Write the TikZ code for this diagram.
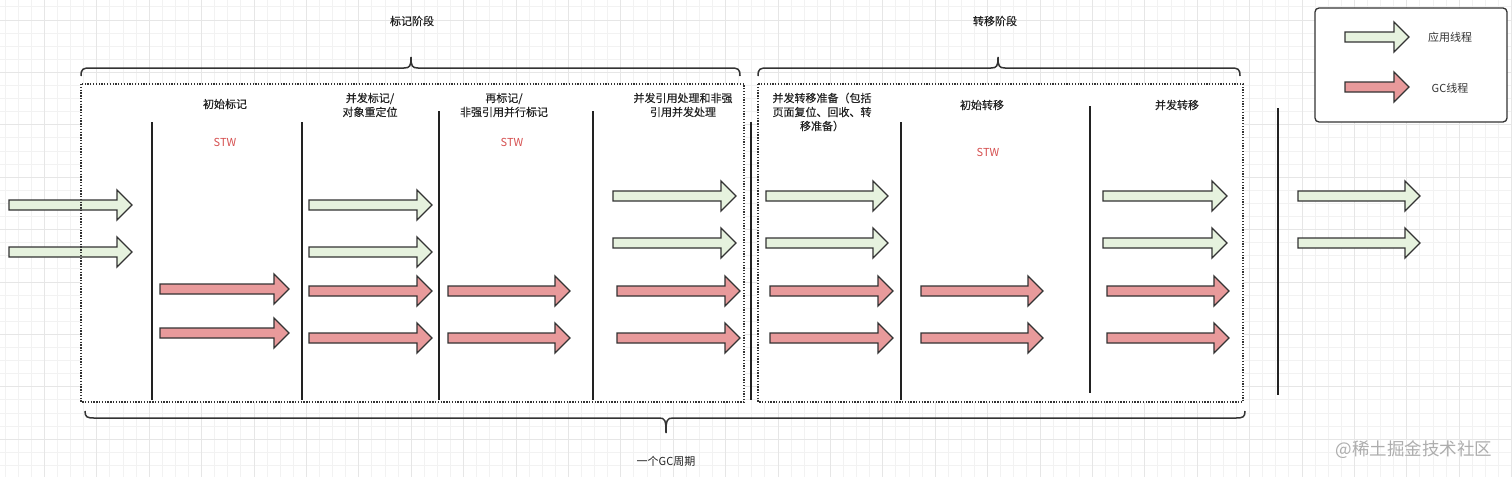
\documentclass[tikz,border=0pt]{standalone}
\usepackage{fontspec}
\newfontfamily\cjk{Noto Sans CJK SC}
\newfontfamily\cjkb[FakeBold=0.35]{Noto Sans CJK SC}
\definecolor{gfill}{HTML}{E6F2DE}
\definecolor{rfill}{HTML}{E89A9B}
\definecolor{strokec}{HTML}{333333}
\definecolor{stwred}{HTML}{D65050}
\definecolor{gridminor}{HTML}{F2F2F2}
\definecolor{gridmajor}{HTML}{E6E6E6}
\definecolor{txt}{HTML}{222222}
\newcommand\thrarrow[5]{%
  \draw[arrowshape, fill=#5] (#2,#4-5) -- (#3-15,#4-5) -- (#3-15,#4-15) -- (#3,#4) -- (#3-15,#4+15) -- (#3-15,#4+5) -- (#2,#4+5) -- cycle;
  \coordinate (#1) at (#3,#4);
}
\newcommand\topbrace[4]{% x1, x2, tip, y
  \draw[bracec] (#1,#4+8) .. controls (#1,#4+1) and (#1+2,#4) .. (#1+9,#4) -- (#3-7,#4) .. controls (#3-1,#4) and (#3,#4-2) .. (#3,#4-11) .. controls (#3,#4-2) and (#3+1,#4) .. (#3+7,#4) -- (#2-9,#4) .. controls (#2-2,#4) and (#2,#4+1) .. (#2,#4+8);
}
\tikzset{
  arrowshape/.style={draw=strokec, line width=1.3pt, line join=miter},
  bracec/.style={draw=strokec, line width=1.5pt},
  dotbox/.style={draw=strokec, line width=1.3pt, dash pattern=on 1.3pt off 1.5pt},
  sep/.style={draw=txt, line width=1.5pt},
  lbl/.style={text=txt, align=center, inner sep=0pt, font=\cjkb\fontsize{11}{14}\selectfont},
  stw/.style={text=stwred, inner sep=0pt},
  leg/.style={text=strokec, inner sep=0pt},
}
\begin{document}
\begin{tikzpicture}[x=1pt,y=-1pt, font=\cjk\fontsize{11}{14}\selectfont]
\useasboundingbox (0,0) rectangle (1512,477);
\fill[white] (0,0) rectangle (1512,477);
% grid
\foreach \i in {0,...,115} \draw[gridminor, line width=0.9pt] ({5.1+13.1*\i},0) -- ++(0,477);
\foreach \i in {0,...,36} \draw[gridminor, line width=0.9pt] (0,{6.9+13.1*\i}) -- ++(1512,0);
\foreach \i in {1,...,29} \draw[gridmajor, line width=1pt] ({-8+52.4*\i},0) -- ++(0,477);
\foreach \i in {0,...,8} \draw[gridmajor, line width=1pt] (0,{20+52.4*\i}) -- ++(1512,0);
% white areas
\fill[white] (81,84) rectangle (744,402);
\fill[white] (758,84) rectangle (1243,402);
% separators
\draw[sep] (152,122) -- (152,400);
\draw[sep] (302,122) -- (302,400);
\draw[sep] (439,111) -- (439,400);
\draw[sep] (593,111) -- (593,400);
\draw[sep] (751,122) -- (751,400);
\draw[sep] (901,122) -- (901,400);
\draw[sep] (1090,106) -- (1090,393);
\draw[sep] (1278,108) -- (1278,395);
% arrows
\foreach \a/\b/\c [count=\n] in {9/132/205, 9/132/252, 309/432/205, 309/432/252, 613/736/196, 613/736/243, 766/888/196, 766/888/243, 1103/1227/196, 1103/1227/243, 1298/1420/196, 1298/1420/243}
  {\thrarrow{g\n}{\a}{\b}{\c}{gfill}}
\foreach \a/\b/\c [count=\n] in {160/289/289, 160/289/333, 309/432/291, 309/432/338, 448/570/291, 448/570/338, 617/740/291, 617/740/338, 770/893/291, 770/893/338, 921/1043/291, 921/1043/338, 1107/1229/291, 1107/1229/338}
  {\thrarrow{r\n}{\a}{\b}{\c}{rfill}}
% dotted boxes
\draw[dotbox] (81,84) rectangle (744,402);
\draw[dotbox] (758,84) rectangle (1243,402);
% braces
\topbrace{81}{740}{411}{68}
\topbrace{758}{1240}{998}{68}
\draw[bracec] (85,411) .. controls (85,417) and (87,418) .. (94,418) -- (659,418) .. controls (665,418) and (666,420) .. (666,433) .. controls (666,420) and (667,418) .. (673,418) -- (1236,418) .. controls (1243,418) and (1245,417) .. (1245,411);
% texts
\node[lbl] (t1) at (412,21) {标记阶段};
\node[lbl] (t2) at (995,21) {转移阶段};
\node[lbl] (c1) at (225,104) {初始标记};
\node[lbl] (c2) at (370,105) {并发标记/\\对象重定位};
\node[lbl] (c3) at (504,105) {再标记/\\非强引用并行标记};
\node[lbl] (c4) at (683,105) {并发引用处理和非强\\引用并发处理};
\node[lbl] (c5) at (822,112) {并发转移准备（包括\\页面复位、回收、转\\移准备）};
\node[lbl] (c6) at (982,105) {初始转移};
\node[lbl] (c7) at (1177,105) {并发转移};
\node[stw] (s1) at (225,142) {STW};
\node[stw] (s2) at (512,142) {STW};
\node[stw] (s3) at (988,152) {STW};
\node[leg, text=txt] (cyc) at (666,461) {一个GC周期};
% legend
\draw[draw=strokec, fill=white, line width=1.3pt, rounded corners=4pt] (1315,8) rectangle (1507,122);
\thrarrow{lg}{1345}{1409}{37}{gfill}
\thrarrow{lr}{1345}{1409}{87}{rfill}
\node[leg] (l1) at (1450,37) {应用线程};
\node[leg] (l2) at (1450,88) {GC线程};
% watermark
\node[inner sep=0pt, text=black!32, font=\cjk\fontsize{17.5}{20}\selectfont] (wm) at (1414,450) {@稀土掘金技术社区};
\end{tikzpicture}
\end{document}
